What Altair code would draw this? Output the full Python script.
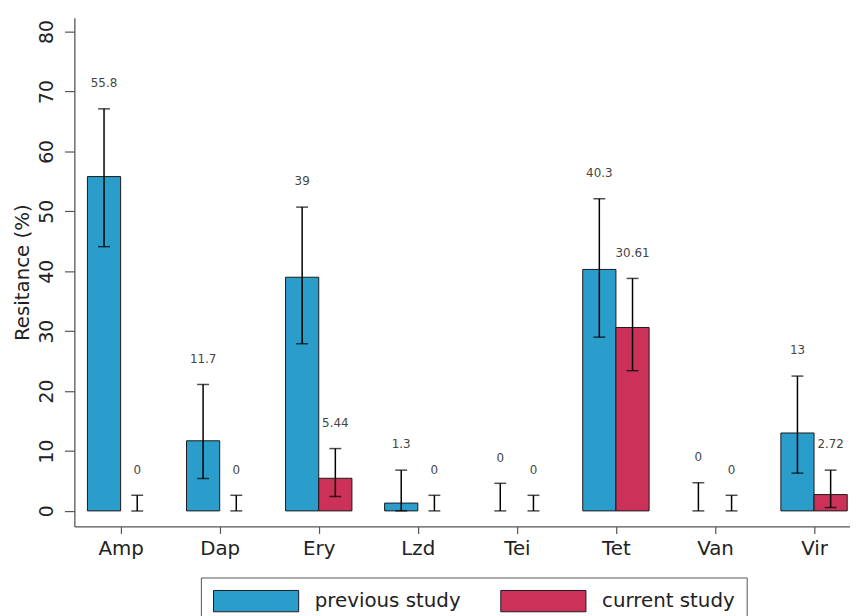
import json
import altair as alt
import pandas as pd

categories = ["Amp", "Dap", "Ery", "Lzd", "Tei", "Tet", "Van", "Vir"]
studies = ["previous study", "current study"]

prev_value = [55.8, 11.7, 39, 1.3, 0, 40.3, 0, 13]
prev_low = [44.1, 5.4, 27.9, 0, 0, 29.0, 0, 6.3]
prev_high = [67.1, 21.1, 50.7, 6.8, 4.6, 52.1, 4.7, 22.5]

curr_value = [0, 0, 5.44, 0, 0, 30.61, 0, 2.72]
curr_low = [0, 0, 2.4, 0, 0, 23.4, 0, 0.56]
curr_high = [2.6, 2.6, 10.4, 2.6, 2.6, 38.8, 2.6, 6.8]

y_ticks = [0, 10, 20, 30, 40, 50, 60, 70, 80]

rows = []
for i, c in enumerate(categories):
    rows.append(dict(cat=c, idx=i, study=studies[0], value=prev_value[i],
                     lo=prev_low[i], hi=prev_high[i]))
    rows.append(dict(cat=c, idx=i, study=studies[1], value=curr_value[i],
                     lo=curr_low[i], hi=curr_high[i]))
df = pd.DataFrame(rows)
df["label"] = df["value"].map(lambda v: f"{v:g}")

BW = 0.335
FONT = "DejaVu Sans"

base = alt.Chart(df).transform_calculate(
    x1=f"datum.idx + (datum.study == '{studies[0]}' ? -{BW} : 0)",
    x2=f"datum.idx + (datum.study == '{studies[0]}' ? 0 : {BW})",
    xc=f"datum.idx + (datum.study == '{studies[0]}' ? -{BW/2} : {BW/2})",
)

label_expr = json.dumps(categories) + "[datum.value]"

xscale = alt.Scale(domain=[-0.467, 7.363], nice=False, zero=False)
yscale = alt.Scale(domain=[-2.6, 82.3], nice=False, zero=False)

x_axis = alt.Axis(values=list(range(len(categories))), labelExpr=label_expr,
                  title=None, grid=False, tickSize=7, labelPadding=5,
                  labelFontSize=20, labelFont=FONT, labelColor="#222",
                  domainColor="#555", domainWidth=1.3, tickColor="#555",
                  tickWidth=1.2, labelBaseline="top")
y_axis = alt.Axis(values=y_ticks, title="Resitance (%)", grid=False,
                  tickSize=10, labelAngle=270, labelAlign="center",
                  labelBaseline="bottom", labelPadding=8, labelFontSize=19,
                  labelFont=FONT, labelColor="#222", titleFont=FONT,
                  titleFontSize=20, titleFontWeight="normal", titleColor="#222",
                  titleX=-52, titleY=256.75, titleAngle=270,
                  titleAlign="center", titleBaseline="middle",
                  domainColor="#555", domainWidth=1.3, tickColor="#555",
                  tickWidth=1.2)

bars = base.transform_filter("datum.value > 0").mark_bar(
    stroke="#1a1a1a", strokeWidth=1
).encode(
    x=alt.X("x1:Q", scale=xscale, axis=x_axis),
    x2="x2:Q",
    y=alt.Y("value:Q", scale=yscale, axis=y_axis),
    y2=alt.datum(0),
    color=alt.Color("study:N", scale=alt.Scale(domain=studies,
                                               range=["#2b9dcb", "#cc3159"]),
                    legend=alt.Legend(
                        title=None, orient="none", legendX=127.7, legendY=565,
                        direction="horizontal", columns=2,
                        symbolType="M-1,-1H7V1H-1Z", symbolSize=462,
                        symbolStrokeColor="#1a1a1a", symbolStrokeWidth=1,
                        symbolOpacity=1,
                        labelFont=FONT, labelFontSize=20, labelColor="#222",
                        labelOffset=80, columnPadding=37, padding=12,
                        strokeColor="#555", fillColor="white")),
)

rules = base.mark_rule(color="black", strokeWidth=1.5).encode(
    x="xc:Q", y="lo:Q", y2="hi:Q"
)
cap_lo = base.mark_tick(orient="horizontal", color="black", size=12,
                        thickness=1.5).encode(x="xc:Q", y="lo:Q")
cap_hi = base.mark_tick(orient="horizontal", color="black", size=12,
                        thickness=1.5).encode(x="xc:Q", y="hi:Q")

labels = base.mark_text(dy=-26, baseline="middle", align="center",
                        fontSize=12, font=FONT, color="#444").encode(
    x="xc:Q", y="hi:Q", text="label:N"
)

chart = alt.layer(bars, rules, cap_lo, cap_hi, labels).properties(
    width=783, height=513.5,
    autosize=alt.AutoSizeParams(type="none"),
    padding={"left": 67, "top": 7, "right": 0, "bottom": 87},
).configure_view(stroke=None)

chart.save("out.html", embed_options={"renderer": "svg", "actions": False})
